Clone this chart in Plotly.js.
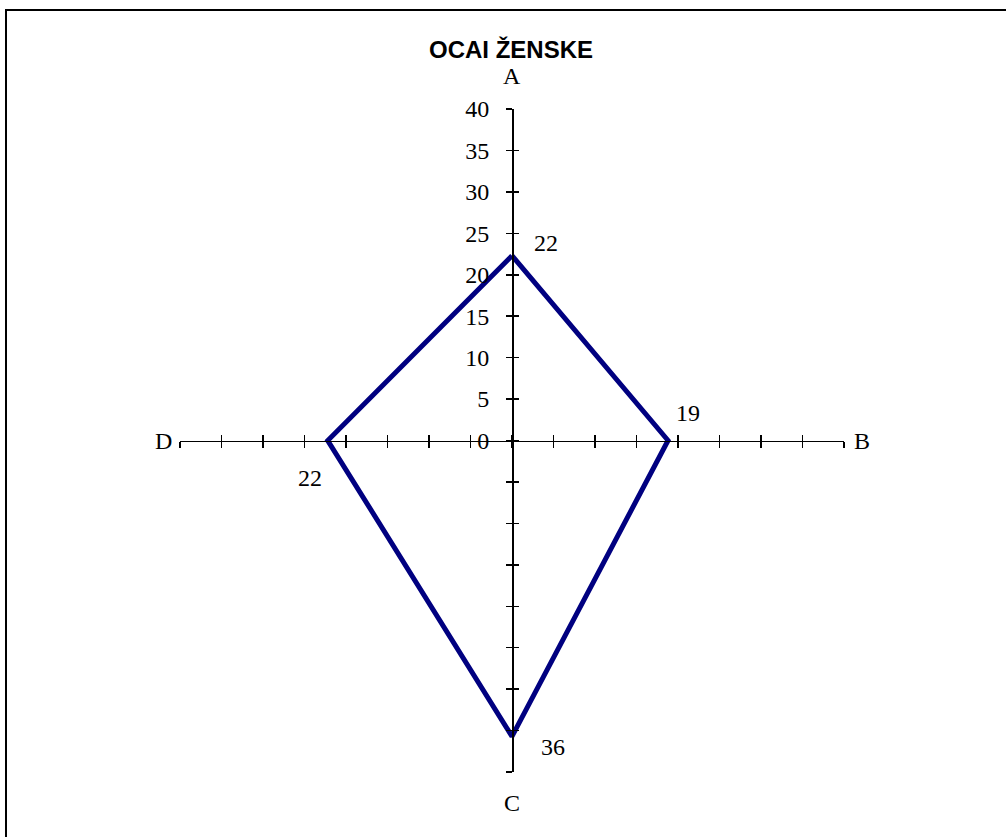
<!DOCTYPE html>
<html>
<head>
<meta charset="utf-8">
<script src="https://cdn.plot.ly/plotly-3.0.1.min.js"></script>
<style>
  html, body { margin: 0; padding: 0; background: #fff; }
  #wrap { position: relative; width: 1006px; height: 837px; overflow: hidden; }
  #chart { position: absolute; left: 0; top: 0; width: 1006px; height: 837px; }
  #frame { position: absolute; left: 5px; top: 9px; width: 1100px; height: 900px;
           border-top: 2px solid #000; border-left: 2px solid #000; pointer-events: none; }
</style>
</head>
<body>
<div id="wrap">
  <div id="chart"></div>
  <div id="frame"></div>
</div>
<script>
// Radar chart data (axes A top, B right, C bottom, D left)
const categories = ["A", "B", "C", "D"];
const values = [22.3, 18.8, 35.7, 22.2];
const axisTicks = [0, 5, 10, 15, 20, 25, 30, 35, 40];
const chartTitle = "OCAI ŽENSKE";

// direction of each category axis in the cartesian plane
const dirs = { A: [0, 1], B: [1, 0], C: [0, -1], D: [-1, 0] };

const px = [], py = [];
categories.forEach((c, i) => { px.push(dirs[c][0] * values[i]); py.push(dirs[c][1] * values[i]); });
px.push(px[0]); py.push(py[0]);

const maxV = axisTicks[axisTicks.length - 1];
const allTicks = [];
for (let i = axisTicks.length - 1; i > 0; i--) allTicks.push(-axisTicks[i]);
axisTicks.forEach(t => allTicks.push(t));
const yTickText = allTicks.map(t => t >= 0 ? String(t) : "");

const serif = "Liberation Serif, Times New Roman, serif";

const traces = [
  {
    x: px, y: py, type: "scatter", mode: "lines",
    line: { color: "#000080", width: 5 },
    hoverinfo: "skip", showlegend: false, cliponaxis: false
  },
  {
    x: [0], y: [0], xaxis: "x2", yaxis: "y2", type: "scatter", mode: "markers",
    marker: { opacity: 0 }, hoverinfo: "skip", showlegend: false
  }
];

const labelShift = { A: [34, 13], B: [20, 28], C: [41, -11], D: [-18, -37] };
const annotations = [];
categories.forEach((c, i) => {
  annotations.push({
    x: px[i], y: py[i], xref: "x", yref: "y", showarrow: false,
    text: String(Math.round(values[i])),
    xshift: labelShift[c][0], yshift: labelShift[c][1],
    font: { family: serif, size: 24, color: "#000" }
  });
});
const catShift = { A: [0, 33], B: [18, 0], C: [0, -31], D: [-17, 0] };
categories.forEach(c => {
  annotations.push({
    x: dirs[c][0] * maxV, y: dirs[c][1] * maxV, xref: "x", yref: "y", showarrow: false,
    text: c, xshift: catShift[c][0], yshift: catShift[c][1],
    font: { family: serif, size: 24, color: "#000" }
  });
});

const baseAxis = {
  range: [-maxV, maxV], showgrid: false, zeroline: false, fixedrange: true,
  tickmode: "array", tickvals: allTicks, ticklen: 6, tickwidth: 1.5, tickcolor: "#000"
};

const layout = {
  width: 1006, height: 837,
  margin: { l: 180, r: 162, t: 109, b: 65, pad: 0 },
  paper_bgcolor: "rgba(0,0,0,0)", plot_bgcolor: "rgba(0,0,0,0)",
  title: {
    text: "<b>" + chartTitle + "</b>",
    font: { family: "Liberation Sans, Arial, sans-serif", size: 24, color: "#000" },
    x: 0.508, xanchor: "center", y: 1 - 50 / 837, yanchor: "middle", yref: "container"
  },
  xaxis: Object.assign({}, baseAxis, {
    anchor: "free", position: 0.5, side: "bottom", ticks: "outside",
    showline: true, linecolor: "#000", linewidth: 1.5, showticklabels: false
  }),
  xaxis2: Object.assign({}, baseAxis, {
    overlaying: "x", anchor: "free", position: 0.5, side: "bottom", ticks: "inside",
    showline: false, showticklabels: false
  }),
  yaxis: Object.assign({}, baseAxis, {
    anchor: "free", position: 0.5, side: "left", ticks: "outside",
    showline: true, linecolor: "#000", linewidth: 1.5,
    showticklabels: true, ticktext: yTickText, ticklabelstandoff: 12,
    tickfont: { family: serif, size: 24, color: "#000" }
  }),
  yaxis2: Object.assign({}, baseAxis, {
    overlaying: "y", anchor: "free", position: 0.5, side: "left", ticks: "inside",
    showline: false, showticklabels: false
  }),
  annotations: annotations,
  showlegend: false
};

Plotly.newPlot("chart", traces, layout, { staticPlot: true, displayModeBar: false });
</script>
</body>
</html>
